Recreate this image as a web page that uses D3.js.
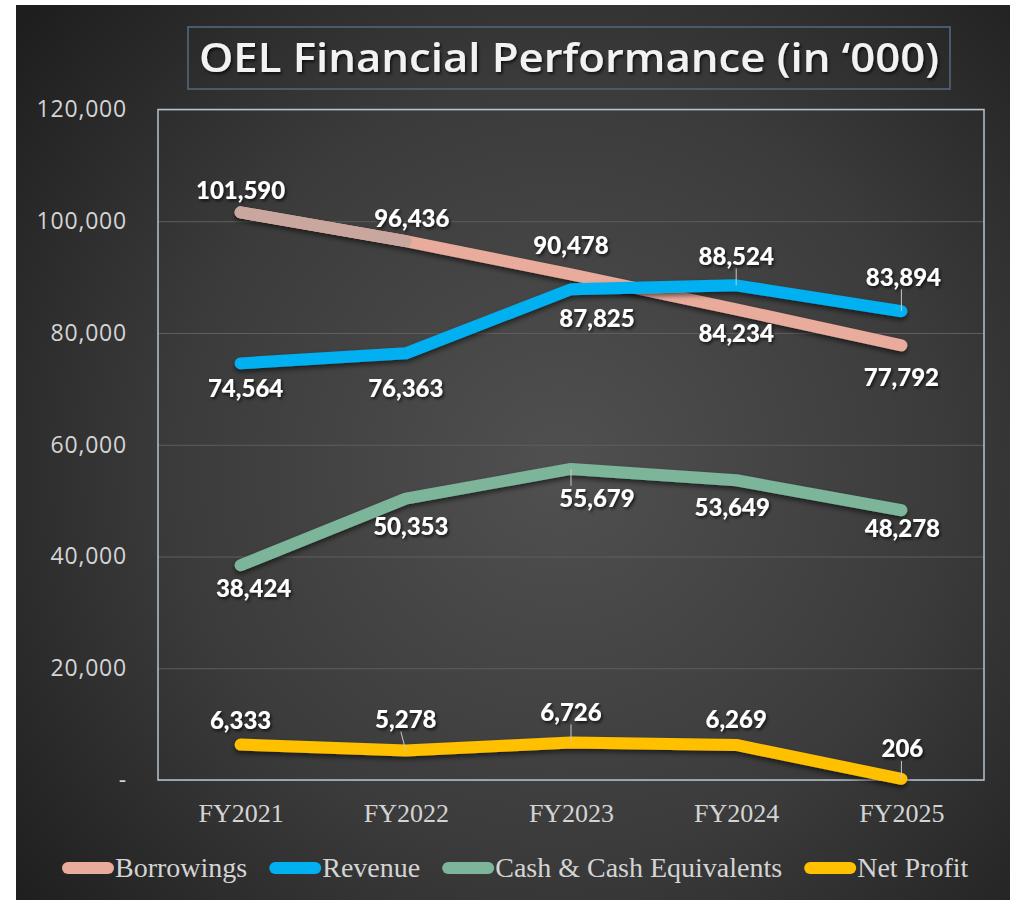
<!DOCTYPE html>
<html>
<head>
<meta charset="utf-8">
<script src="https://cdn.jsdelivr.net/npm/d3@7"></script>
<style>
  html, body { margin: 0; padding: 0; background: #fff; }
  svg { display: block; }
</style>
</head>
<body>
<svg width="1011" height="900"></svg>
<script>
// chart data
const years = ['FY2021', 'FY2022', 'FY2023', 'FY2024', 'FY2025'];
const borrowings = [101590, 96436, 90478, 84234, 77792];
const revenue = [74564, 76363, 87825, 88524, 83894];
const cashEquivalents = [38424, 50353, 55679, 53649, 48278];
const netProfit = [6333, 5278, 6726, 6269, 206];
const yTicks = [0, 20000, 40000, 60000, 80000, 100000, 120000];
const seriesNames = ['Borrowings', 'Revenue', 'Cash & Cash Equivalents', 'Net Profit'];
const titleText = 'OEL Financial Performance (in \u2018000)';

function whenLoaded(){
    const svg = d3.select('svg');
    const width = +svg.attr('width');
    const height = +svg.attr('height');

    const colors = ['#E9AB9B', '#00B0F0', '#7DB59B', '#FFC000'];
    const allValues = [borrowings, revenue, cashEquivalents, netProfit];

    // label placement relative to each point [dx, dy] (center of label)
    const labelOffsets = [
        [[0,-22],[6,-23],[0,-29],[0,24],[0,32]],
        [[5,25],[0,35],[26,29],[0,-29],[2,-34]],
        [[13,23],[5,28],[26,29],[-4,27],[1,18]],
        [[0,-24],[0,-31],[0,-30],[0,-26],[1,-30]]
    ];
    const leaders = [
        [false,false,false,false,false],
        [false,false,false,true,true],
        [false,false,true,false,false],
        [false,true,true,false,true]
    ];

    const defs = svg.append('defs');
    const grad = defs.append('radialGradient')
        .attr('id','bg')
        .attr('gradientUnits','userSpaceOnUse')
        .attr('cx',560).attr('cy',470).attr('r',700);
    grad.append('stop').attr('offset','0%').attr('stop-color','#505050');
    grad.append('stop').attr('offset','55%').attr('stop-color','#3b3b3b');
    grad.append('stop').attr('offset','100%').attr('stop-color','#1e1e1e');

    const shadow = defs.append('filter').attr('id','shadow')
        .attr('x','-10%').attr('y','-50%').attr('width','120%').attr('height','200%');
    shadow.append('feDropShadow').attr('dx',0).attr('dy',3).attr('stdDeviation',2.5)
        .attr('flood-color','#000').attr('flood-opacity',0.55);

    const tshadow = defs.append('filter').attr('id','tshadow');
    tshadow.append('feDropShadow').attr('dx',1.5).attr('dy',2).attr('stdDeviation',1.5)
        .attr('flood-color','#000').attr('flood-opacity',0.7);

    svg.append('rect')
        .attr('x',16).attr('y',5)
        .attr('width',width-17).attr('height',height-5)
        .attr('fill','url(#bg)');

    // title
    svg.append('rect')
        .attr('x',188).attr('y',27).attr('width',762).attr('height',62)
        .attr('fill','none').attr('stroke','#4a5a6e').attr('stroke-width',2);
    svg.append('text')
        .attr('x',569).attr('y',72)
        .attr('text-anchor','middle')
        .attr('font-family','"Open Sans", sans-serif')
        .attr('font-weight',600)
        .attr('font-size',40)
        .attr('textLength',740)
        .attr('lengthAdjust','spacingAndGlyphs')
        .attr('fill','#f2f2f2')
        .attr('filter','url(#tshadow)')
        .text(titleText);

    const margin = {top:109.5, right:27, bottom:120, left:158};
    const innerWidth = width - margin.left - margin.right;
    const innerHeight = height - margin.top - margin.bottom;

    const xScale = d3.scalePoint()
        .domain(years)
        .range([0, innerWidth])
        .padding(0.5);

    const yScale = d3.scaleLinear()
        .domain([0, 120000])
        .range([innerHeight, 0]);

    const g = svg.append('g')
        .attr('transform',`translate(${margin.left},${margin.top})`);

    // gridlines
    const grid = g.append('g')
        .call(d3.axisLeft(yScale).tickValues(yTicks).tickSize(-innerWidth).tickFormat(''));
    grid.selectAll('.domain').remove();
    grid.selectAll('line').attr('stroke','#5e5e5e').attr('stroke-width',1.2);

    // plot border
    g.append('rect')
        .attr('width',innerWidth).attr('height',innerHeight)
        .attr('fill','none').attr('stroke','#b8c2cc').attr('stroke-width',1.5);

    const yAxisTickFormat = v => v === 0 ? '-' : d3.format(',')(v);
    const yAxisG = g.append('g')
        .call(d3.axisLeft(yScale).tickValues(yTicks).tickSize(0).tickPadding(31).tickFormat(yAxisTickFormat));
    yAxisG.selectAll('.domain').remove();
    yAxisG.selectAll('text')
        .attr('font-family','"Open Sans", sans-serif')
        .attr('font-size',23)
        .attr('letter-spacing',0.8)
        .attr('fill','#d4d4d4');

    const xAxisG = g.append('g')
        .attr('transform',`translate(0,${innerHeight})`)
        .call(d3.axisBottom(xScale).tickSize(0).tickPadding(24));
    xAxisG.selectAll('.domain').remove();
    xAxisG.selectAll('text')
        .attr('font-family','"Liberation Serif", "DejaVu Serif", serif')
        .attr('font-size',26)
        .attr('fill','#d4d4d4');

    const line = d3.line()
        .x((d,i) => xScale(years[i]))
        .y(d => yScale(d));

    allValues.forEach((vals, s) => {
        g.append('path')
            .datum(vals)
            .attr('d', line)
            .attr('fill','none')
            .attr('stroke',colors[s])
            .attr('stroke-width',12)
            .attr('stroke-linecap','round')
            .attr('stroke-linejoin','round')
            .attr('filter','url(#shadow)');
        if (s === 0) {
            // first borrowings segment has a lighter tone
            g.append('path')
                .datum(vals.slice(0,2))
                .attr('d', line)
                .attr('fill','none')
                .attr('stroke','#C9A79E')
                .attr('stroke-width',12)
                .attr('stroke-linecap','round');
        }
    });

    // leader lines
    allValues.forEach((vals, s) => {
        vals.forEach((v, i) => {
            if (!leaders[s][i]) return;
            const x = xScale(years[i]);
            const y = yScale(v);
            const dy = labelOffsets[s][i][1];
            const y2 = dy < 0 ? y + dy + 12 : y + dy - 12;
            g.append('line')
                .attr('x1', x).attr('x2', x + (s===3 && i===1 ? -5 : 0))
                .attr('y1', y).attr('y2', y2)
                .attr('stroke','#c8c8c8').attr('stroke-width',1);
        });
    });

    // data labels
    allValues.forEach((vals, s) => {
        g.append('g').selectAll('text').data(vals)
            .enter()
            .append('text')
            .attr('x',(d,i) => xScale(years[i]) + labelOffsets[s][i][0])
            .attr('y',(d,i) => yScale(d) + labelOffsets[s][i][1])
            .attr('dy','0.36em')
            .attr('text-anchor','middle')
            .attr('font-family','Lato, "Open Sans", sans-serif')
            .attr('font-weight',900)
            .attr('font-size',24)
            .attr('fill','#ffffff')
            .attr('filter','url(#tshadow)')
            .text(d => d3.format(',')(d));
    });

    // legend
    const legend = svg.append('g').attr('transform','translate(62,868)');
    let cursor = 0;
    seriesNames.forEach((name, s) => {
        const item = legend.append('g').attr('transform',`translate(${cursor},0)`);
        item.append('line')
            .attr('x1',6).attr('x2',46).attr('y1',0).attr('y2',0)
            .attr('stroke',colors[s]).attr('stroke-width',12)
            .attr('stroke-linecap','round');
        const t = item.append('text')
            .attr('x',53).attr('y',0).attr('dy','0.33em')
            .attr('font-family','"Liberation Serif", "DejaVu Serif", serif')
            .attr('font-size',28)
            .attr('fill','#d4d4d4')
            .text(name);
        cursor += 53 + t.node().getComputedTextLength() + 22;
    });
}

window.onload = whenLoaded;
</script>
</body>
</html>
